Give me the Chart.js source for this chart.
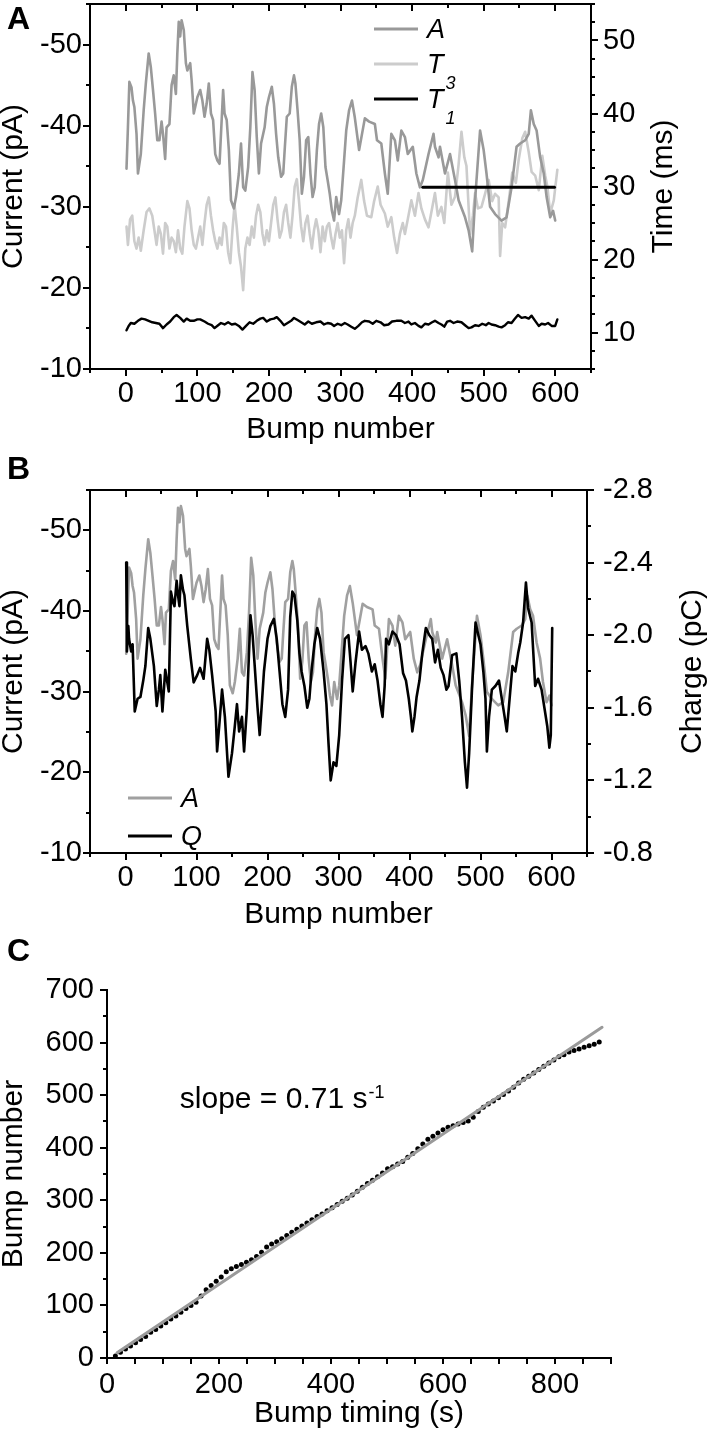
<!DOCTYPE html>
<html>
<head>
<meta charset="utf-8">
<script src="https://cdn.jsdelivr.net/npm/chart.js@4.4.1/dist/chart.umd.min.js"></script>
<style>
  html, body { margin: 0; padding: 0; background: #fff; }
  #page { position: relative; width: 708px; height: 1436px; background: #fff; overflow: hidden; }
  #page canvas { position: absolute; left: 0; }
</style>
</head>
<body>
<div id="page">
  <canvas id="panelA" width="708" height="450" style="top:0px"></canvas>
  <canvas id="panelB" width="708" height="480" style="top:450px"></canvas>
  <canvas id="panelC" width="708" height="506" style="top:930px"></canvas>
</div>
<script>
// ==========================================
// 1. DATA
// ==========================================
// Peak amplitude A (pA) per bump number
const ampBump = [1,3,5,8,10,12,15,17,21,25,28,32,35,38,41,44,47,50,52,55,57,61,64,67,70,72,74,76,78,81,84,86,90,92,95,98,100,104,107,110,113,116,119,122,125,128,131,136,138,141,144,147,151,154,158,161,164,167,171,174,177,180,183,186,189,194,197,200,204,207,210,213,217,220,222,225,229,232,235,237,240,243,246,249,252,255,258,261,264,267,270,273,276,279,282,285,288,291,294,298,301,305,308,312,316,320,326,334,340,348,351,357,362,366,371,376,380,385,390,394,401,406,411,415,423,430,432,437,439,446,453,460,465,474,479,484,488,495,500,504,509,516,525,532,539,546,551,558,563,566,570,574,579,584,588,593,597,600];
const ampPA = [-34.7,-39.8,-45.4,-44.7,-43.1,-42.3,-39,-34.1,-36.5,-41.9,-45.2,-48.9,-47.2,-44.4,-41.5,-38.2,-38.2,-40.5,-39,-35.9,-39.8,-40.2,-45,-46.2,-43.9,-48.9,-52.8,-51,-53,-51.8,-47.7,-46.8,-47.7,-45.6,-41.5,-42.7,-43.5,-44.4,-43.1,-41.1,-42.7,-45.2,-41.5,-40.7,-36.5,-35.7,-35.3,-44.4,-41.5,-40.7,-37,-30.8,-29.8,-31.2,-34.1,-37.8,-32.4,-32,-34.9,-39.8,-46.6,-44.4,-38.6,-34.1,-37.8,-39.8,-42.3,-43.5,-44.8,-42.7,-39,-36.1,-33.7,-34.1,-37,-41.1,-41.5,-44.8,-46.2,-45.2,-41.9,-38.2,-31.6,-33.7,-38.2,-38.6,-34.1,-31.2,-32.4,-37,-40.2,-41.5,-39.8,-34.9,-33.3,-31.6,-29.5,-28.3,-31.2,-29.1,-30.8,-35.7,-39.4,-41.9,-43.1,-41,-37,-40.9,-40.5,-40.2,-38.2,-37.8,-34.1,-31.6,-39,-38.2,-35.7,-39.4,-38.6,-36.5,-37.4,-34.1,-32.4,-33.3,-36.5,-39,-37.4,-36.1,-37.4,-34.1,-36.5,-33.3,-30.8,-28.7,-27.1,-24.5,-30.8,-39.4,-37,-34.1,-30,-29.1,-28.3,-28.7,-32.4,-37.4,-37.8,-38.2,-39,-41.9,-40.2,-39.4,-36.1,-34.1,-31.2,-28.7,-29.5,-28.3];

// T3 (ms)
const t3Bump = [1,3,6,9,12,15,18,21,25,29,33,37,40,43,46,49,52,55,58,61,64,67,70,73,76,79,82,86,89,92,95,98,101,104,107,110,113,116,119,122,125,128,131,134,137,140,143,146,149,152,155,158,161,164,167,170,173,176,179,182,185,188,191,194,197,200,203,206,209,212,215,218,221,224,227,230,233,236,239,242,245,248,251,254,257,260,263,266,269,272,275,278,281,284,287,290,293,296,299,302,305,308,311,314,317,320,324,329,333,337,343,347,352,356,362,366,371,375,379,383,387,390,394,399,404,409,413,418,423,427,432,436,441,445,450,455,460,465,469,473,476,481,485,488,492,497,502,507,512,516,521,523,526,530,535,540,545,549,554,558,563,567,572,577,582,586,589,593,598,603];
const t3Ms = [24.5,22.0,25.5,26.0,22.5,21.5,23.0,21.2,24.0,26.5,27.0,26.0,24.0,22.0,24.5,23.5,20.8,25.0,24.5,21.5,23.0,22.5,21.0,24.0,21.5,20.8,24.5,28.0,27.0,24.0,22.0,21.5,23.0,24.5,22.0,25.0,27.5,28.5,26.0,24.0,22.5,21.5,23.0,22.0,25.0,24.5,21.0,19.5,24.0,27.5,24.5,21.0,19.0,15.8,21.5,23.0,22.0,24.5,23.0,26.0,27.5,26.5,23.5,22.0,24.0,22.5,25.0,27.5,28.5,25.5,23.0,24.0,26.5,27.5,25.0,23.0,26.0,30.0,31.0,28.0,24.5,22.5,25.0,26.0,23.5,21.5,24.0,25.5,24.0,21.0,24.5,22.5,24.5,25.0,23.0,21.5,23.5,25.0,23.0,24.0,19.5,24.0,25.5,23.0,25.0,26.0,28.5,30.9,28.0,26.0,25.8,28.0,30.0,27.5,26.3,24.5,25.8,23.0,20.9,23.5,25.0,23.5,25.5,28.1,26.0,29.1,27.0,25.5,24.4,26.5,29.1,26.0,27.2,25.0,31.9,27.5,28.6,33.0,37.5,34.0,32.8,23.5,26.0,29.1,27.0,27.2,29.0,30.9,28.0,29.0,28.5,20.5,25.0,24.4,28.0,31.9,30.5,33.7,36.6,37.5,34.7,32.0,31.5,29.5,34.2,31.5,30.0,26.3,28.1,32.3];

// T1 (ms)
const t1Bump = [1,4,7,12,17,22,27,32,37,42,47,52,57,62,67,71,76,81,85,90,95,100,104,110,115,120,124,129,133,138,143,148,153,158,163,168,173,178,183,188,192,197,202,207,211,216,221,226,231,235,240,245,250,255,260,266,272,277,282,287,291,296,301,306,310,315,320,325,330,334,340,345,350,356,361,367,372,378,385,390,395,399,404,409,413,418,423,428,432,437,441,445,449,453,458,463,469,474,479,483,488,493,498,503,507,511,516,521,525,530,534,539,543,548,553,558,563,567,572,577,581,586,590,595,600,603];
const t1Ms = [10.3,10.9,11.3,11.2,11.6,11.9,11.8,11.6,11.4,11.3,11.2,10.6,11.1,11.5,12.1,12.4,12.0,11.5,11.9,11.6,11.6,11.8,11.8,11.5,11.2,11.0,10.6,11.0,11.3,11.1,11.4,11.1,11.2,10.9,10.4,10.9,11.4,11.2,11.6,11.9,12.0,11.5,11.8,11.9,12.1,11.6,11.0,11.3,11.6,12.0,11.7,11.4,11.1,11.5,11.2,11.4,11.5,11.1,11.3,11.2,10.9,11.2,11.0,11.3,11.1,10.8,10.5,10.9,11.4,11.6,11.5,11.2,11.6,11.4,11.0,11.1,11.5,11.6,11.6,11.3,11.5,11.1,11.3,10.9,10.7,11.2,11.1,11.4,11.6,11.3,11.1,10.8,11.5,11.6,11.3,11.5,11.4,11.0,10.6,10.7,11.0,10.9,11.2,11.0,11.3,11.1,11.0,10.8,10.7,11.0,11.4,11.3,11.8,12.4,12.0,12.1,11.9,12.3,11.6,10.9,11.2,11.1,11.3,10.9,10.9,11.8];

// black reference bar in panel A (ms)
const barBump = [415, 599];
const barMs = [29.9, 29.9];

// Charge Q (pC)
const qBump = [1,2,4,5,8,10,13,17,21,25,28,32,35,40,44,47,49,52,56,61,64,67,69,72,74,76,78,81,83,87,92,96,101,105,110,115,118,122,127,129,132,136,140,145,150,154,157,160,164,167,171,176,179,182,186,189,192,195,200,204,209,213,217,221,225,229,232,235,238,242,245,248,252,256,259,262,266,270,274,279,283,286,289,293,297,301,305,309,314,317,320,324,329,333,338,342,347,351,355,359,362,365,367,371,376,381,386,391,395,399,402,404,407,410,414,418,423,428,432,436,440,444,448,452,455,460,466,470,474,478,481,484,488,493,497,500,504,507,509,512,516,521,526,530,534,537,541,545,549,553,556,560,564,567,572,577,581,586,590,594,597,599,601];
const qPC = [-2.40,-1.91,-2.05,-1.98,-1.91,-1.95,-1.58,-1.65,-1.66,-1.75,-1.83,-2.04,-1.98,-1.83,-1.61,-1.70,-1.78,-1.58,-1.81,-1.69,-2.24,-2.18,-2.16,-2.30,-2.22,-2.16,-2.33,-2.25,-2.22,-2.05,-1.87,-1.74,-1.78,-1.82,-1.76,-1.98,-1.92,-1.78,-1.58,-1.36,-1.50,-1.70,-1.55,-1.22,-1.35,-1.50,-1.62,-1.47,-1.55,-1.36,-1.60,-2.11,-2.00,-1.83,-1.60,-1.45,-1.62,-1.80,-1.98,-2.05,-2.09,-1.98,-1.80,-1.62,-1.55,-1.70,-2.10,-2.24,-2.22,-2.08,-1.90,-1.80,-1.72,-1.60,-1.65,-1.80,-1.95,-2.04,-1.98,-1.80,-1.62,-1.40,-1.20,-1.30,-1.28,-1.45,-1.75,-1.98,-2.00,-1.85,-1.69,-1.85,-2.02,-1.92,-1.94,-1.90,-1.80,-1.84,-1.75,-1.62,-1.55,-1.72,-1.98,-1.95,-2.02,-2.00,-1.95,-1.79,-1.75,-1.65,-1.55,-1.47,-1.55,-1.66,-1.75,-1.90,-2.04,-2.00,-1.98,-1.85,-1.92,-1.82,-1.78,-1.70,-1.72,-1.89,-1.90,-1.75,-1.55,-1.30,-1.16,-1.35,-1.70,-2.07,-2.00,-1.95,-1.80,-1.65,-1.36,-1.55,-1.70,-1.72,-1.75,-1.65,-1.55,-1.47,-1.65,-1.83,-1.80,-1.90,-1.96,-2.07,-2.29,-2.15,-2.07,-1.72,-1.76,-1.70,-1.60,-1.50,-1.38,-1.45,-2.04];

// Panel C: bump timing (s) vs bump number, plus linear fit
const timingS = [15,24,33,42,51,60,69,78,87,96,105,114,123,132,141,150,159,168,177,186,195,204,213,222,231,240,249,258,267,276,285,294,303,312,321,330,339,348,357,366,375,384,393,402,411,420,429,438,447,456,465,474,483,492,501,510,519,528,537,546,555,564,573,582,591,600,609,618,627,636,645,654,663,672,681,690,699,708,717,726,735,744,753,762,771,780,789,798,807,816,825,834,843,852,861,870,879];
const bumpNo = [4,11,17,23,29,35,41,49,54,61,67,74,80,87,94,100,106,118,130,138,146,154,164,170,174,178,182,187,193,201,211,217,221,227,233,239,245,251,257,263,269,274,280,286,292,298,304,310,317,325,332,338,345,352,360,364,369,374,382,389,398,407,416,422,428,434,439,442,445,448,451,458,469,477,483,489,495,501,508,515,523,530,536,542,549,555,561,567,573,577,582,585,588,591,594,597,601];
const fitS = [18, 884];
const fitBump = [10, 629];

// Tick labels
const bumpTicks = [0, 100, 200, 300, 400, 500, 600];
const currentTicks = [-50, -40, -30, -20, -10];
const timeTicks = [10, 20, 30, 40, 50];
const chargeTicks = [-2.8, -2.4, -2.0, -1.6, -1.2, -0.8];
const timingTicks = [0, 200, 400, 600, 800];
const countTicks = [0, 100, 200, 300, 400, 500, 600, 700];

// ==========================================
// 2. HELPERS
// ==========================================
const FONT = "'Liberation Sans', Arial, Helvetica, sans-serif";
Chart.defaults.font.family = FONT;
Chart.defaults.color = '#000';

function steps(from, to, step) {
    const out = [];
    for (let v = from; v <= to + 1e-9; v += step) out.push(Math.round(v * 1000) / 1000);
    return out;
}
function pairs(xs, ys) {
    return xs.map((x, i) => ({ x: x, y: ys[i] }));
}
function notIn(list, majors) {
    return list.filter(v => !majors.some(m => Math.abs(m - v) < 1e-6));
}

function axis(o) {
    return {
        type: 'linear',
        position: o.position,
        min: o.min,
        max: o.max,
        reverse: !!o.reverse,
        grid: { display: false, drawTicks: false },
        border: { display: true, color: '#000', width: 2 },
        ticks: {
            padding: o.pad,
            font: { size: 29 },
            color: '#000',
            autoSkip: false,
            maxRotation: 0,
            callback: o.fmt || (v => String(v))
        },
        afterBuildTicks: s => { s.ticks = o.ticks.map(v => ({ value: v })); },
        afterFit: s => {
            if (s.isHorizontal()) s.height = o.size; else s.width = o.size;
            s.paddingTop = 0; s.paddingBottom = 0; s.paddingLeft = 0; s.paddingRight = 0;
        }
    };
}

// Extra drawing per panel: tick marks, frame, titles, legends, letters
const decorConfig = {
    panelA: {
        topEdge: true,
        marks: [
            { scale: 'x', edge: 'bottom', values: bumpTicks, len: 7 },
            { scale: 'x', edge: 'bottom', values: steps(-50, 650, 100), len: 4 },
            { scale: 'x', edge: 'top', values: bumpTicks, len: 7 },
            { scale: 'x', edge: 'top', values: steps(-50, 650, 100), len: 4 },
            { scale: 'y', edge: 'left', values: currentTicks, len: 7 },
            { scale: 'y', edge: 'left', values: steps(-55, -15, 10), len: 4 },
            { scale: 'y2', edge: 'right', values: timeTicks, len: 7 },
            { scale: 'y2', edge: 'right', values: notIn(steps(5, 55, 2.5), timeTicks), len: 4 }
        ],
        titles: [
            { text: 'Bump number', side: 'bottom', off: 61 },
            { text: 'Current (pA)', side: 'left', x: 14 },
            { text: 'Time (ms)', side: 'right', x: 664 }
        ],
        legend: [
            { x: 374, y: 29, color: '#999999', label: 'A' },
            { x: 374, y: 64, color: '#cccccc', label: 'T', sub: '3' },
            { x: 374, y: 99, color: '#000000', label: 'T', sub: '1' }
        ],
        letter: { text: 'A', x: 7, y: 29 }
    },
    panelB: {
        topEdge: true,
        marks: [
            { scale: 'x', edge: 'bottom', values: bumpTicks, len: 7 },
            { scale: 'x', edge: 'bottom', values: steps(-50, 650, 100), len: 4 },
            { scale: 'x', edge: 'top', values: bumpTicks, len: 7 },
            { scale: 'x', edge: 'top', values: steps(-50, 650, 100), len: 4 },
            { scale: 'y', edge: 'left', values: currentTicks, len: 7 },
            { scale: 'y', edge: 'left', values: steps(-55, -15, 10), len: 4 },
            { scale: 'y2', edge: 'right', values: chargeTicks, len: 7 },
            { scale: 'y2', edge: 'right', values: steps(-2.6, -1.0, 0.4), len: 4 }
        ],
        titles: [
            { text: 'Bump number', side: 'bottom', off: 62 },
            { text: 'Current (pA)', side: 'left', x: 14 },
            { text: 'Charge (pC)', side: 'right', x: 693 }
        ],
        legend: [
            { x: 128, y: 348, color: '#a0a0a0', label: 'A' },
            { x: 128, y: 386, color: '#000000', label: 'Q' }
        ],
        letter: { text: 'B', x: 7, y: 29 }
    },
    panelC: {
        topEdge: false,
        marks: [
            { scale: 'x', edge: 'bottom', values: steps(0, 900, 50), len: 6 },
            { scale: 'y', edge: 'left', values: countTicks, len: 7 },
            { scale: 'y', edge: 'left', values: steps(50, 650, 100), len: 4 }
        ],
        titles: [
            { text: 'Bump timing (s)', side: 'bottom', off: 56 },
            { text: 'Bump number', side: 'left', x: 14 }
        ],
        legend: [],
        note: { x: 130, y: 475, text: 'slope = 0.71 s', sup: '-1' },
        letter: { text: 'C', x: 7, y: 31 }
    }
};

const decor = {
    id: 'decor',
    afterDraw(chart) {
        const o = decorConfig[chart.canvas.id];
        if (!o) return;
        const ctx = chart.ctx, a = chart.chartArea;
        ctx.save();
        ctx.strokeStyle = '#000';
        ctx.fillStyle = '#000';
        ctx.lineWidth = 2;

        if (o.topEdge) {
            ctx.beginPath();
            ctx.moveTo(a.left - 1, a.top);
            ctx.lineTo(a.right + 1, a.top);
            ctx.stroke();
        }

        // Tick marks
        o.marks.forEach(m => {
            const s = chart.scales[m.scale];
            ctx.beginPath();
            m.values.forEach(v => {
                const p = Math.round(s.getPixelForValue(v));
                if (m.edge === 'bottom') { ctx.moveTo(p, a.bottom); ctx.lineTo(p, a.bottom + m.len); }
                else if (m.edge === 'top') { ctx.moveTo(p, a.top); ctx.lineTo(p, a.top + m.len); }
                else if (m.edge === 'left') { ctx.moveTo(a.left, p); ctx.lineTo(a.left - m.len, p); }
                else { ctx.moveTo(a.right, p); ctx.lineTo(a.right + m.len, p); }
            });
            ctx.stroke();
        });

        // Axis titles
        ctx.textAlign = 'center';
        ctx.textBaseline = 'middle';
        ctx.font = '30px ' + FONT;
        o.titles.forEach(t => {
            ctx.save();
            if (t.side === 'bottom') {
                ctx.translate((a.left + a.right) / 2, a.bottom + t.off);
            } else {
                ctx.translate(t.x, (a.top + a.bottom) / 2);
                ctx.rotate(-Math.PI / 2);
            }
            ctx.fillText(t.text, 0, 0);
            ctx.restore();
        });

        // Legend
        ctx.textAlign = 'left';
        ctx.textBaseline = 'alphabetic';
        o.legend.forEach(it => {
            ctx.strokeStyle = it.color;
            ctx.lineWidth = 3;
            ctx.beginPath();
            ctx.moveTo(it.x, it.y);
            ctx.lineTo(it.x + 44, it.y);
            ctx.stroke();
            ctx.font = 'italic 27px ' + FONT;
            ctx.fillText(it.label, it.x + 53, it.y + 9);
            if (it.sub) {
                const w = ctx.measureText(it.label).width;
                ctx.font = 'italic 18px ' + FONT;
                ctx.fillText(it.sub, it.x + 53 + w + 2, it.y + 25);
            }
        });

        // Annotation
        if (o.note) {
            const x = chart.scales.x.getPixelForValue(o.note.x);
            const y = chart.scales.y.getPixelForValue(o.note.y);
            ctx.font = '30px ' + FONT;
            ctx.fillText(o.note.text, x, y);
            const w = ctx.measureText(o.note.text).width;
            ctx.font = '18px ' + FONT;
            ctx.fillText(o.note.sup, x + w + 1, y - 10);
        }

        // Panel letter
        ctx.font = 'bold 32px ' + FONT;
        ctx.fillText(o.letter.text, o.letter.x, o.letter.y);
        ctx.restore();
    }
};

function panel(id, datasets, scales, padding) {
    return new Chart(document.getElementById(id), {
        type: 'line',
        data: { datasets: datasets },
        options: {
            responsive: false,
            animation: false,
            devicePixelRatio: 1,
            layout: { padding: padding },
            plugins: { legend: { display: false }, tooltip: { enabled: false } },
            elements: {
                line: { tension: 0, borderJoinStyle: 'round', borderCapStyle: 'round' },
                point: { radius: 0, hoverRadius: 0 }
            },
            scales: scales
        },
        plugins: [decor]
    });
}

// ==========================================
// 3. PANEL A
// ==========================================
panel('panelA', [
    { data: pairs(barBump, barMs), yAxisID: 'y2', borderColor: '#000', borderWidth: 3 },
    { data: pairs(ampBump, ampPA), yAxisID: 'y', borderColor: '#999999', borderWidth: 2.6 },
    { data: pairs(t3Bump, t3Ms), yAxisID: 'y2', borderColor: '#cccccc', borderWidth: 2.6 },
    { data: pairs(t1Bump, t1Ms), yAxisID: 'y2', borderColor: '#000', borderWidth: 2.4 }
], {
    x: axis({ position: 'bottom', min: -50, max: 650, ticks: bumpTicks, size: 81, pad: 8 }),
    y: axis({ position: 'left', min: -55, max: -10, reverse: true, ticks: currentTicks, size: 90, pad: 8 }),
    y2: axis({ position: 'right', min: 5, max: 55, ticks: timeTicks, size: 117, pad: 12 })
}, { top: 4, left: 0, right: 0, bottom: 0 });

// ==========================================
// 4. PANEL B
// ==========================================
panel('panelB', [
    { data: pairs(qBump, qPC), yAxisID: 'y2', borderColor: '#000', borderWidth: 2.6 },
    { data: pairs(ampBump, ampPA), yAxisID: 'y', borderColor: '#a0a0a0', borderWidth: 2.6 }
], {
    x: axis({ position: 'bottom', min: -50, max: 650, ticks: bumpTicks, size: 77, pad: 8 }),
    y: axis({ position: 'left', min: -55, max: -10, reverse: true, ticks: currentTicks, size: 90, pad: 8 }),
    y2: axis({ position: 'right', min: -2.8, max: -0.8, reverse: true, ticks: chargeTicks, size: 121, pad: 16, fmt: v => v.toFixed(1) })
}, { top: 40, left: 0, right: 0, bottom: 0 });

// ==========================================
// 5. PANEL C
// ==========================================
panel('panelC', [
    { data: pairs(fitS, fitBump), borderColor: '#9a9a9a', borderWidth: 3 },
    { data: pairs(timingS, bumpNo), showLine: false, pointRadius: 2.5, pointBackgroundColor: '#000', pointBorderWidth: 0, borderColor: '#000' }
], {
    x: axis({ position: 'bottom', min: 0, max: 900, ticks: timingTicks, size: 78, pad: 10 }),
    y: axis({ position: 'left', min: 0, max: 700, ticks: countTicks, size: 107, pad: 13 })
}, { top: 60, left: 0, right: 97, bottom: 0 });
</script>
</body>
</html>
